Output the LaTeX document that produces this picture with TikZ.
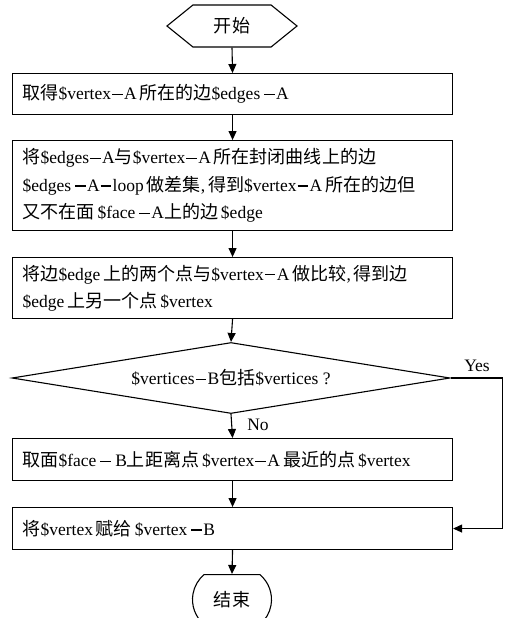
\documentclass[tikz,border=0pt]{standalone}
\usepackage{fontspec}
\setmainfont{Liberation Serif}
\newfontfamily\cjk[Scale=1.03]{Noto Sans CJK SC}
\usetikzlibrary{shapes.geometric,shapes.symbols,shapes.misc,arrows.meta}
\newcommand\zh[1]{{\cjk #1}}
\newcommand\dsh{\kern1pt\rule[0.26em]{10.5pt}{1.4pt}\kern1.5pt}
\begin{document}
\begin{tikzpicture}[x=1pt,y=-1pt,
  font=\fontsize{17.5}{27.5}\selectfont,
  line width=1.1pt,
  arr/.style={-{Triangle[length=9pt,width=8pt]}},
  procbox/.style={draw, rectangle, anchor=north west, minimum width=440pt,
    inner xsep=10pt, inner ysep=0pt, text width=420pt, align=left},
  startbox/.style={draw, signal, signal to=east and west, signal pointer angle=78,
    minimum width=130pt, minimum height=42pt, inner sep=0pt},
  endbox/.style={draw, rounded rectangle, rounded rectangle arc length=100,
    minimum width=79pt, minimum height=50pt, anchor=north, inner sep=0pt},
  decbox/.style={draw, diamond, shape aspect=6, minimum width=438pt,
    minimum height=71pt, inner sep=0pt}]
\useasboundingbox[fill=white] (0,0) rectangle (512,618);
\clip (0,0) rectangle (512,618);

\node[startbox] (start) at (232,26) {\zh{开始}};
\node[procbox, minimum height=41pt] (b1) at (12,73)
  {\mbox{\zh{取得}\$vertex\dsh A\,\zh{所在的边}\$edges\,\dsh A}};
\node[procbox, minimum height=90pt] (b2) at (12,140)
  {\mbox{\zh{将}\$edges\dsh A\zh{与}\$vertex\dsh A\,\zh{所在封闭曲线上的边}}\\
   \mbox{\$edges\,\dsh A\dsh loop\,\zh{做差集},\,\zh{得到}\$vertex\dsh A\,\zh{所在的边但}}\\
   \mbox{\zh{又不在面}\,\$face\,\dsh A\zh{上的边}\,\$edge}};
\node[procbox, minimum height=61pt] (b3) at (12,257)
  {\mbox{\zh{将边}\$edge\,\zh{上的两个点与}\$vertex\dsh A\,\zh{做比较},\,\zh{得到边}}\\
   \mbox{\$edge\,\zh{上另一个点}\,\$vertex}};
\node[decbox] (dec) at (231,378) {\$vertices\dsh B\zh{包括}\$vertices ?};
\node[procbox, minimum height=42pt] (b4) at (12,438)
  {\mbox{\zh{取面}\$face\,\dsh\,B\zh{上距离点}\,\$vertex\dsh A\,\zh{最近的点}\,\$vertex}};
\node[procbox, minimum height=42pt] (b5) at (12,507)
  {\mbox{\zh{将}\$vertex\,\zh{赋给}\,\$vertex\,\dsh B}};
\node[endbox] (end) at (232,574) {\zh{结束}};

\node (yes) at (477,366) {Yes};
\node (no) at (258,425) {No};

\draw[arr] (start.south) -- (b1.north);
\draw[arr] (b1.south) -- (b2.north);
\draw[arr] (b2.south) -- (b3.north);
\draw[arr] (b3.south) -- (dec.north);
\draw[arr] (dec.south) -- (b4.north);
\draw[arr] (b4.south) -- (b5.north);
\draw[arr] (b5.south) -- (end.north);
\draw[arr] (dec.east) -- ++(52,0) coordinate (yc) |- (b5.east);
\end{tikzpicture}
\end{document}
